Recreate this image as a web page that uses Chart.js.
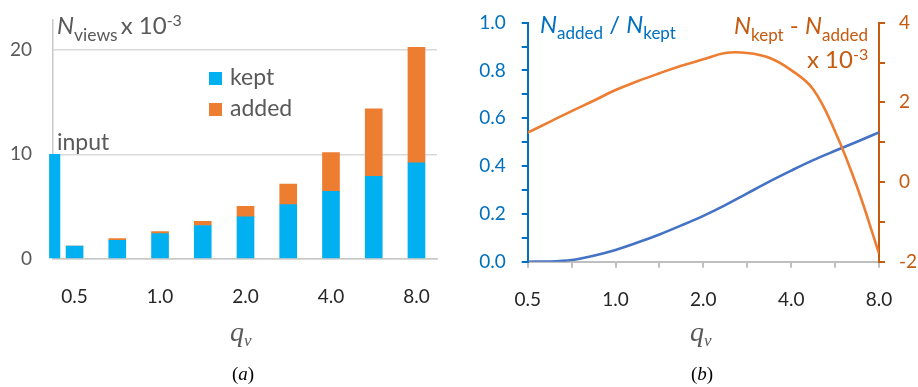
<!DOCTYPE html>
<html>
<head>
<meta charset="utf-8">
<script src="https://cdn.jsdelivr.net/npm/chart.js@4.4.1/dist/chart.umd.min.js"></script>
<style>
  html, body { margin: 0; padding: 0; background: #fff; }
  #wrap { position: relative; width: 918px; height: 387px; overflow: hidden; background: #fff; }
  canvas { position: absolute; top: 0; }
  .lbl { position: absolute; white-space: nowrap; line-height: 1; }
  .sw { position: absolute; width: 13px; height: 13px; }
</style>
</head>
<body>
<div id="wrap">
  <canvas id="views" width="460" height="387" style="left:0"></canvas>
  <canvas id="ratio" width="458" height="387" style="left:460px"></canvas>
</div>
<script>
// ---- (a) number of views per q_v ----
const Q_BARS = [0.5, 0.707, 1.0, 1.414, 2.0, 2.828, 4.0, 5.657, 8.0];
const KEPT   = [1.22, 1.77, 2.41, 3.18, 4.02, 5.18, 6.45, 7.89, 9.18];
const ADDED  = [0.00, 0.16, 0.19, 0.39, 0.99, 1.98, 3.71, 6.46, 11.08];
const INPUT_VIEWS = 10;
const VIEW_TICKS = [0, 10, 20];

// ---- (b) ratio and difference per q_v ----
const Q_CURVE = [0.5, 0.595, 0.707, 0.841, 1.0, 1.189, 1.414, 1.682, 2.0,
                 2.378, 2.828, 3.364, 4.0, 4.757, 5.657, 6.727, 8.0];
const RATIO   = [0.000, 0.001, 0.007, 0.025, 0.049, 0.080, 0.114, 0.152, 0.192,
                 0.237, 0.286, 0.335, 0.381, 0.425, 0.464, 0.502, 0.541];
const DIFF    = [1.24, 1.51, 1.78, 2.04, 2.31, 2.53, 2.73, 2.92, 3.08,
                 3.24, 3.24, 3.12, 2.81, 2.33, 1.27, -0.12, -1.79];

// shared q_v axis ticks
const Q_TICKS = [0.5, 0.7071, 1, 1.4142, 2, 2.8284, 4, 5.6569, 8];
const Q_TICK_LABELS = ['0.5', '', '1.0', '', '2.0', '', '4.0', '', '8.0'];
const RATIO_TICKS = [0, 0.1, 0.2, 0.3, 0.4, 0.5, 0.6, 0.7, 0.8, 0.9, 1.0];
const RATIO_TICK_LABELS = ['0.0', '', '0.2', '', '0.4', '', '0.6', '', '0.8', '', '1.0'];
const DIFF_TICKS = [-2, -1, 0, 1, 2, 3, 4];
const DIFF_TICK_LABELS = ['-2', '', '0', '', '2', '', '4'];

const BLUE_BAR = '#00B0F0';
const ORANGE = '#ED7D31';
const AXIS_BLUE = '#0070C0';
const AXIS_ORANGE = '#C55A11';
const LINE_BLUE = '#4472C4';
const GREY_TEXT = '#595959';
const SANS = 'Lato';

Chart.defaults.font.family = SANS;
Chart.defaults.animation = false;

const setTicks = list => scale => { scale.ticks = list.map(v => ({ value: v })); };
// fixed axis width; label overhang must not push the plot area down
const fixWidth = w => s => { s.width = w; s.paddingTop = 0; s.paddingBottom = 0; };

// -------- chart (a) --------
new Chart(document.getElementById('views'), {
  type: 'bar',
  data: {
    datasets: [
      { label: 'kept', data: Q_BARS.map((q, i) => ({ x: q, y: KEPT[i] })),
        backgroundColor: BLUE_BAR, barThickness: 17, borderWidth: 0 },
      { label: 'added', data: Q_BARS.map((q, i) => ({ x: q, y: ADDED[i] })),
        backgroundColor: ORANGE, barThickness: 17, borderWidth: 0 },
      { label: 'input', data: [{ x: 0.4256, y: INPUT_VIEWS }],
        backgroundColor: BLUE_BAR, barThickness: 10.5, borderWidth: 0, clip: false }
    ]
  },
  options: {
    responsive: false,
    devicePixelRatio: 1,
    layout: { padding: { top: 19.7, right: 23, left: 0, bottom: 0 } },
    plugins: { legend: { display: false }, tooltip: { enabled: false } },
    scales: {
      x: {
        type: 'logarithmic', min: 0.4198, max: 9.45, bounds: 'data', stacked: true,
        afterBuildTicks: setTicks(Q_TICKS),
        afterFit: s => { s.height = 387 - 258.7; },
        grid: { display: false, drawTicks: false },
        border: { display: true, color: '#c8c8c8', width: 1.5 },
        ticks: { autoSkip: false, maxRotation: 0, padding: 27, color: '#262626',
                 font: { size: 19 }, callback: (v, i) => Q_TICK_LABELS[i] }
      },
      y: {
        min: 0, max: 22.9, stacked: true,
        afterBuildTicks: setTicks(VIEW_TICKS),
        afterFit: fixWidth(53),
        grid: { color: '#d9d9d9', lineWidth: 1.5, drawTicks: false },
        border: { color: '#c8c8c8', width: 1.5 },
        ticks: { padding: 21, color: GREY_TEXT, font: { size: 19 } }
      }
    }
  }
});

// -------- chart (b) --------
new Chart(document.getElementById('ratio'), {
  type: 'line',
  data: {
    datasets: [
      { label: 'N_kept - N_added', data: Q_CURVE.map((q, i) => ({ x: q, y: DIFF[i] })),
        yAxisID: 'y1', borderColor: ORANGE, borderWidth: 2.6, pointRadius: 0,
        tension: 0.4 },
      { label: 'N_added / N_kept', data: Q_CURVE.map((q, i) => ({ x: q, y: RATIO[i] })),
        yAxisID: 'y', borderColor: LINE_BLUE, borderWidth: 2.6, pointRadius: 0,
        cubicInterpolationMode: 'monotone' }
    ]
  },
  options: {
    responsive: false,
    devicePixelRatio: 1,
    layout: { padding: { top: 22.7, right: 0, left: 0, bottom: 0 } },
    plugins: { legend: { display: false }, tooltip: { enabled: false } },
    scales: {
      x: {
        type: 'logarithmic', min: 0.5, max: 8, bounds: 'data',
        afterBuildTicks: setTicks(Q_TICKS),
        afterFit: s => { s.height = 387 - 261.7; },
        grid: { drawOnChartArea: false, tickLength: 6, color: '#bfbfbf', lineWidth: 2 },
        border: { color: '#bfbfbf', width: 2 },
        ticks: { autoSkip: false, maxRotation: 0, padding: 21, color: '#262626',
                 font: { size: 19 }, callback: (v, i) => Q_TICK_LABELS[i] }
      },
      y: {
        position: 'left', min: 0, max: 1,
        afterBuildTicks: setTicks(RATIO_TICKS),
        afterFit: fixWidth(67.7),
        grid: { drawOnChartArea: false, tickLength: 6, color: AXIS_BLUE, lineWidth: 2 },
        border: { color: AXIS_BLUE, width: 2 },
        ticks: { autoSkip: false, padding: 16, color: AXIS_BLUE, font: { size: 19 },
                 callback: (v, i) => RATIO_TICK_LABELS[i] }
      },
      y1: {
        position: 'right', min: -2, max: 4,
        afterBuildTicks: setTicks(DIFF_TICKS),
        afterFit: fixWidth(39),
        grid: { drawOnChartArea: false, tickLength: 6, color: AXIS_ORANGE, lineWidth: 2 },
        border: { color: AXIS_ORANGE, width: 2 },
        ticks: { autoSkip: false, padding: 14, color: AXIS_ORANGE, font: { size: 19 },
                 callback: (v, i) => DIFF_TICK_LABELS[i] }
      }
    }
  }
});

// -------- text annotations --------
const wrap = document.getElementById('wrap');

function baselineOf(font) {
  const d = document.createElement('div');
  d.className = 'lbl';
  d.style.font = font;
  d.style.lineHeight = '1';
  d.style.visibility = 'hidden';
  d.innerHTML = 'Hg<span style="display:inline-block;width:1px;height:0;vertical-align:baseline"></span>';
  wrap.appendChild(d);
  const off = d.lastChild.offsetTop;
  d.remove();
  return off;
}

// place a label with its baseline at y; align 'left' | 'right' | 'center' relative to x
function place(html, x, y, size, family, color, align) {
  const font = `${size}px ${family}`;
  const d = document.createElement('div');
  d.className = 'lbl';
  d.style.font = font;
  d.style.lineHeight = '1';
  d.style.color = color;
  d.innerHTML = html;
  d.style.top = (y - baselineOf(font)) + 'px';
  wrap.appendChild(d);
  const w = d.offsetWidth;
  if (align === 'right') d.style.left = (x - w) + 'px';
  else if (align === 'center') d.style.left = (x - w / 2) + 'px';
  else d.style.left = x + 'px';
  return d;
}

const sub = (t, size, dy) => `<span style="font-size:${size}px;position:relative;top:${dy}px">${t}</span>`;
const N = '<i>N</i>';
const SERIF = "'Liberation Serif'";

function swatch(x, y, color) {
  const s = document.createElement('div');
  s.className = 'sw';
  s.style.left = x + 'px';
  s.style.top = y + 'px';
  s.style.background = color;
  wrap.appendChild(s);
}

document.fonts.ready.then(() => {
  // chart (a)
  place(`${N}${sub('views', 17.5, 7)}<span style="margin-left:3px">x 10</span>${sub('-3', 16, -8.5)}`,
        57, 34, 24, SANS, GREY_TEXT, 'left');
  place('input', 57, 150, 23, SANS, GREY_TEXT, 'left');
  swatch(209, 72, BLUE_BAR);
  swatch(209, 103, ORANGE);
  place('kept', 230, 85, 23, SANS, GREY_TEXT, 'left');
  place('added', 230, 116, 23, SANS, GREY_TEXT, 'left');
  place(`<i>q</i>${sub('<i>v</i>', 17, 5)}`, 230, 340.5, 28, SERIF, GREY_TEXT, 'left');
  place('(<i>a</i>)', 243, 380, 19, SERIF, '#000', 'center');

  // chart (b)
  place(`${N}${sub('added', 17, 6.6)} / ${N}${sub('kept', 17, 6.6)}`,
        540, 32.7, 24, SANS, AXIS_BLUE, 'left');
  place(`${N}${sub('kept', 17, 6.6)} - ${N}${sub('added', 17, 6.6)}`,
        868, 34, 24, SANS, AXIS_ORANGE, 'right');
  place(`x 10${sub('-3', 16, -8.5)}`, 868, 68.3, 24, SANS, AXIS_ORANGE, 'right');
  place(`<i>q</i>${sub('<i>v</i>', 17, 5)}`, 690, 340.5, 28, SERIF, GREY_TEXT, 'left');
  place('(<i>b</i>)', 702, 380, 19, SERIF, '#000', 'center');
});
</script>
</body>
</html>
